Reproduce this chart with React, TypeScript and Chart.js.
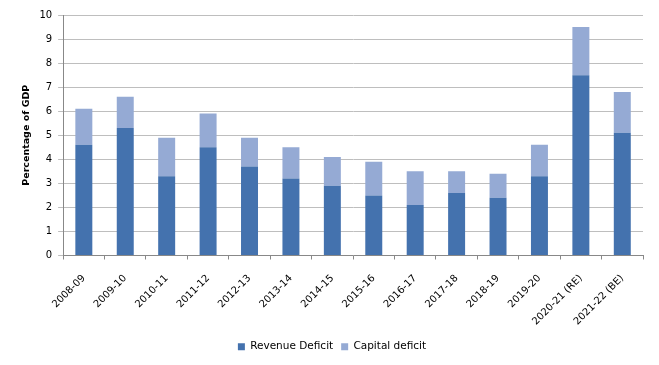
import React, { useEffect, useRef } from "react";
import { Chart, registerables } from "chart.js";

Chart.register(...registerables);

const categories = [
  "2008-09", "2009-10", "2010-11", "2011-12", "2012-13", "2013-14", "2014-15",
  "2015-16", "2016-17", "2017-18", "2018-19", "2019-20", "2020-21 (RE)", "2021-22 (BE)",
];
const revenueDeficit = [4.6, 5.3, 3.3, 4.5, 3.7, 3.2, 2.9, 2.5, 2.1, 2.6, 2.4, 3.3, 7.5, 5.1];
const capitalDeficit = [1.5, 1.3, 1.6, 1.4, 1.2, 1.3, 1.2, 1.4, 1.4, 0.9, 1.0, 1.3, 2.0, 1.7];
const yTicks = [0, 1, 2, 3, 4, 5, 6, 7, 8, 9, 10];

export default function App() {
  const ref = useRef<HTMLCanvasElement | null>(null);
  useEffect(() => {
    document.body.style.margin = "0";
    const family = "'DejaVu Sans', Verdana, sans-serif";
    const tickFont = { family, size: 10 };
    const chart = new Chart(ref.current!, {
      type: "bar",
      data: {
        labels: categories,
        datasets: [
          {
            label: "Revenue Deficit",
            data: revenueDeficit,
            backgroundColor: "#4472AE",
            barPercentage: 0.41,
            categoryPercentage: 1,
          },
          {
            label: "Capital deficit",
            data: capitalDeficit,
            backgroundColor: "#95AAD4",
            barPercentage: 0.41,
            categoryPercentage: 1,
          },
        ],
      },
      options: {
        animation: false,
        responsive: false,
        maintainAspectRatio: false,
        layout: { padding: { top: 15, right: 16, left: 21, bottom: 3 } },
        plugins: {
          tooltip: { enabled: false },
          legend: {
            position: "bottom",
            labels: {
              font: { family, size: 10.5 },
              color: "#000",
              boxWidth: 7,
              boxHeight: 7,
              padding: 8,
            },
          },
        },
        scales: {
          x: {
            stacked: true,
            afterFit: (axis: any) => {
              axis.height = 78;
              axis.paddingLeft = 0;
              axis.paddingRight = 0;
            },
            grid: {
              drawOnChartArea: false,
              drawTicks: true,
              tickLength: 4,
              color: "#888",
            },
            border: { color: "#888" },
            ticks: {
              font: tickFont,
              color: "#000",
              minRotation: 45,
              maxRotation: 45,
              autoSkip: false,
              padding: 13,
            },
          },
          y: {
            stacked: true,
            min: 0,
            max: 10,
            afterBuildTicks: (axis: any) => {
              axis.ticks = yTicks.map((v) => ({ value: v }));
            },
            grid: { color: "#BEBEBE", tickLength: 5 },
            border: { color: "#888" },
            ticks: { font: tickFont, color: "#000", padding: 6 },
            title: {
              display: true,
              text: "Percentage of GDP",
              font: { family, size: 9.5, weight: "bold" },
              color: "#000",
              padding: { top: 0, bottom: 1 },
            },
          },
        },
      },
    });
    return () => chart.destroy();
  }, []);
  return (
    <div style={{ width: 659, height: 365 }}>
      <canvas ref={ref} width={659} height={365} style={{ display: "block" }} />
    </div>
  );
}
